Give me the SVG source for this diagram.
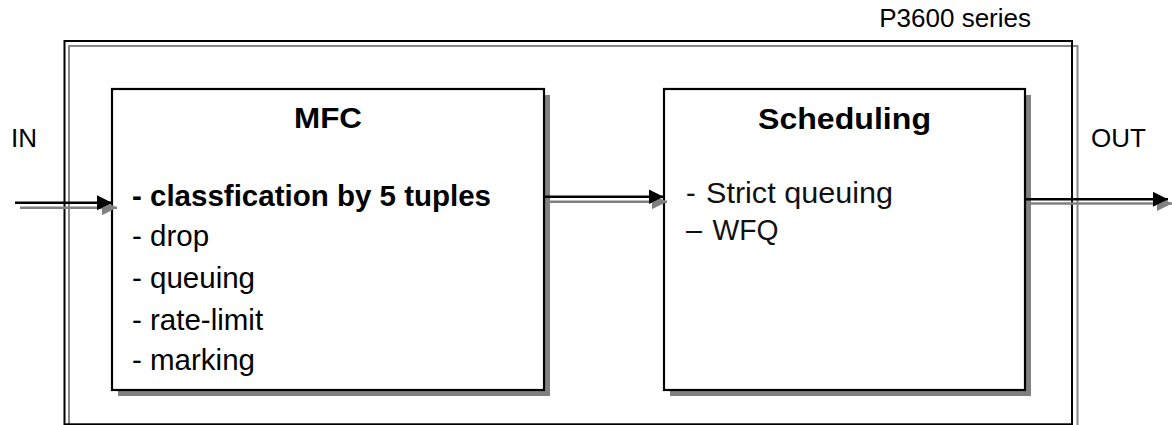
<svg xmlns="http://www.w3.org/2000/svg" width="1172" height="425" viewBox="0 0 1172 425">
<style>
.t{font-family:"Liberation Sans",Arial,sans-serif;fill:#000}
.lbl{font-size:26px}
.item{font-size:29.5px}
.title{font-size:29px;font-weight:bold}
.bold{font-weight:bold}
.kr{font-family:"Liberation Sans",Arial,"Noto Sans CJK KR",sans-serif;font-size:29px;fill:#111}
.box{fill:#fff;stroke:#000;stroke-width:2.2}
.shadow{fill:#808080;stroke:none}
.ln{stroke:#000;stroke-width:2.5;fill:none}
.lns{stroke:#808080;stroke-width:2.5;fill:none}
</style>
<defs>
<marker id="ah" viewBox="0 0 15 15" refX="15" refY="7.5" markerWidth="15" markerHeight="15" markerUnits="userSpaceOnUse" orient="auto">
<path d="M0,0 L15,7.5 L0,15 Z" fill="#000"/>
</marker>
<marker id="ahs" viewBox="0 0 15 15" refX="15" refY="7.5" markerWidth="15" markerHeight="15" markerUnits="userSpaceOnUse" orient="auto">
<path d="M0,0 L15,7.5 L0,15 Z" fill="#808080"/>
</marker>
</defs>
<rect width="1172" height="425" fill="#fff"/>
<g id="frame">
<rect x="69" y="46" width="1008.5" height="383" fill="none" stroke="#888" stroke-width="2"/>
<rect x="64.5" y="41" width="1007.5" height="383.3" fill="none" stroke="#000" stroke-width="2"/>
<text class="t lbl" x="1031" y="27" text-anchor="end">P3600 series</text>
</g>
<g id="mfc">
<rect class="shadow" x="118" y="95" width="432" height="301"/>
<rect class="box" x="112" y="89" width="432" height="301"/>
<text class="t title" x="328" y="127.7" text-anchor="middle" textLength="68" lengthAdjust="spacingAndGlyphs">MFC</text>
<text class="t item bold" x="132" y="206">- classfication by 5 tuples</text>
<text class="t item" x="132" y="246">- drop</text>
<text class="t item" x="132" y="288">- queuing</text>
<text class="t item" x="132" y="330">- rate-limit</text>
<text class="t item" x="132" y="370">- marking</text>
</g>
<g id="scheduling">
<rect class="shadow" x="670" y="95" width="361" height="301"/>
<rect class="box" x="664" y="89" width="361" height="301"/>
<text class="t title" x="844.5" y="129.3" text-anchor="middle" textLength="173" lengthAdjust="spacingAndGlyphs">Scheduling</text>
<text class="kr" y="203"><tspan x="686">- </tspan><tspan x="706" textLength="187" lengthAdjust="spacingAndGlyphs">Strict queuing</tspan></text>
<text class="kr" y="240"><tspan x="686" textLength="16" lengthAdjust="spacingAndGlyphs">–</tspan><tspan> </tspan><tspan x="712.5" textLength="66" lengthAdjust="spacingAndGlyphs">WFQ</tspan></text>
</g>
<g id="io">
<text class="t lbl" x="11" y="146.7">IN</text>
<text class="t lbl" x="1091" y="146.7">OUT</text>
</g>
<g id="connectors">
<line class="lns" x1="20" y1="207.7" x2="117" y2="207.7" marker-end="url(#ahs)"/>
<line class="ln" x1="15" y1="202.7" x2="112" y2="202.7" marker-end="url(#ah)"/>
<line class="lns" x1="548" y1="201.7" x2="667" y2="201.7" marker-end="url(#ahs)"/>
<line class="ln" x1="544" y1="196.7" x2="663.5" y2="196.7" marker-end="url(#ah)"/>
<line class="lns" x1="1028" y1="203.5" x2="1172" y2="203.5" marker-end="url(#ahs)"/>
<line class="ln" x1="1024" y1="199.3" x2="1168" y2="199.3" marker-end="url(#ah)"/>
</g>
</svg>
